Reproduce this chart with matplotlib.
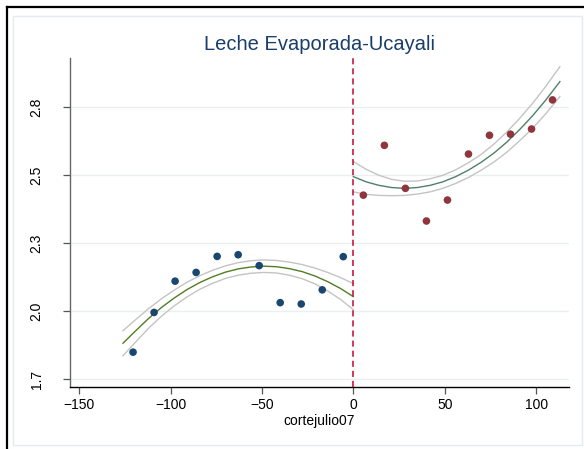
import matplotlib
matplotlib.use("Agg")
import matplotlib.pyplot as plt
from matplotlib.lines import Line2D
from matplotlib.patches import Rectangle

plt.rcParams['font.family'] = ['Liberation Sans', 'DejaVu Sans']

# binned means, left and right of the cutoff
left_x = [-120.5, -109, -97.5, -86, -74.5, -63, -51.5, -40, -28.5, -17, -5.5]
left_y = [1.849, 1.995, 2.110, 2.142, 2.201, 2.207, 2.167, 2.031, 2.026, 2.078, 2.200]
right_x = [5.5, 17, 28.5, 40, 51.5, 63, 74.5, 86, 97.5, 109]
right_y = [2.426, 2.609, 2.451, 2.331, 2.408, 2.577, 2.646, 2.650, 2.669, 2.776]

# quadratic fit with confidence band, left side
fitL_x = [-126, -119, -112, -105, -98, -91, -84, -77, -70, -63,
          -56, -49, -42, -35, -28, -21, -14, -7, 0]
fitL_y = [1.882, 1.928, 1.973, 2.013, 2.048, 2.079, 2.105, 2.126, 2.143, 2.155,
          2.162, 2.165, 2.163, 2.156, 2.145, 2.129, 2.108, 2.083, 2.053]
fitL_lo = [1.836, 1.887, 1.937, 1.981, 2.019, 2.052, 2.080, 2.102, 2.120, 2.132,
           2.139, 2.142, 2.140, 2.132, 2.119, 2.100, 2.074, 2.043, 2.005]
fitL_hi = [1.928, 1.969, 2.009, 2.045, 2.077, 2.106, 2.130, 2.150, 2.166, 2.178,
           2.185, 2.188, 2.186, 2.180, 2.171, 2.158, 2.142, 2.123, 2.101]

# quadratic fit with confidence band, right side
fitR_x = [0, 7, 14, 21, 28, 35, 42, 49, 56, 63, 70, 77, 84, 91, 98, 105, 113]
fitR_y = [2.494, 2.475, 2.462, 2.454, 2.451, 2.454, 2.462, 2.475, 2.494,
          2.518, 2.547, 2.581, 2.621, 2.667, 2.717, 2.773, 2.843]
fitR_lo = [2.438, 2.429, 2.425, 2.424, 2.425, 2.430, 2.438, 2.451, 2.469,
           2.491, 2.518, 2.548, 2.584, 2.626, 2.671, 2.723, 2.788]
fitR_hi = [2.550, 2.521, 2.499, 2.484, 2.477, 2.478, 2.486, 2.499, 2.519,
           2.545, 2.576, 2.614, 2.658, 2.708, 2.763, 2.823, 2.898]

yticks = [1.75, 2.0, 2.25, 2.5, 2.75]
ytick_labels = ['1.7', '2.0', '2.3', '2.5', '2.8']
xticks = [-150, -100, -50, 0, 50, 100]

W, H = 584, 449
fig = plt.figure(figsize=(W / 100, H / 100), dpi=100)
ax = fig.add_axes([70 / W, 1 - 387 / H, 499 / W, 329 / H])

band = '#c4c4c4'
ax.plot(fitL_x, fitL_lo, color=band, lw=1.0, zorder=2)
ax.plot(fitL_x, fitL_hi, color=band, lw=1.0, zorder=2)
ax.plot(fitL_x, fitL_y, color='#4f7d23', lw=1.0, zorder=3)
ax.plot(fitR_x, fitR_lo, color=band, lw=1.0, zorder=2)
ax.plot(fitR_x, fitR_hi, color=band, lw=1.0, zorder=2)
ax.plot(fitR_x, fitR_y, color='#4e8068', lw=1.0, zorder=3)

ax.scatter(left_x, left_y, s=30, color='#1a476f', edgecolors='none', zorder=4)
ax.scatter(right_x, right_y, s=30, color='#90353b', edgecolors='none', zorder=4)

ax.axvline(0, color='#c10534', lw=1.1, ls=(0, (4, 2.6)), zorder=5)

ax.set_xlim(-155, 118)
ax.set_ylim(1.721, 2.930)
ax.set_xticks(xticks)
ax.set_yticks(yticks)
ax.set_yticklabels(ytick_labels, rotation=90, va='center')
ax.tick_params(axis='both', labelsize=10, direction='out', length=5,
               color='#555555', width=0.9)
ax.tick_params(axis='x', pad=3)
ax.tick_params(axis='y', pad=14)
ax.grid(axis='y', color='#e9f0f2', lw=1.0)
ax.set_axisbelow(True)
for side in ['top', 'right']:
    ax.spines[side].set_visible(False)
ax.spines['left'].set_color('#666666')
ax.spines['bottom'].set_color('#000000')
ax.spines['left'].set_linewidth(1.0)
ax.spines['bottom'].set_linewidth(1.0)

ax.set_xlabel('cortejulio07', fontsize=10, labelpad=1)

fig.text(320 / W, 1 - 44 / H, 'Leche Evaporada-Ucayali', ha='center',
         va='center', fontsize=14.5, color='#1a3d6b')

# graph region borders
fig.add_artist(Rectangle((13 / W, 1 - 444.5 / H), 568.5 / W, 428.5 / H,
                         transform=fig.transFigure, fill=False,
                         edgecolor='#e4ebef', lw=1.0))
fig.add_artist(Line2D([6.5 / W, 6.5 / W], [0, 1 - 7 / H], color='black', lw=1.6,
                      transform=fig.transFigure))
fig.add_artist(Line2D([6.5 / W, 1.0], [1 - 7 / H, 1 - 7 / H], color='black', lw=1.6,
                      transform=fig.transFigure))

fig.savefig('out.png', dpi=100)
